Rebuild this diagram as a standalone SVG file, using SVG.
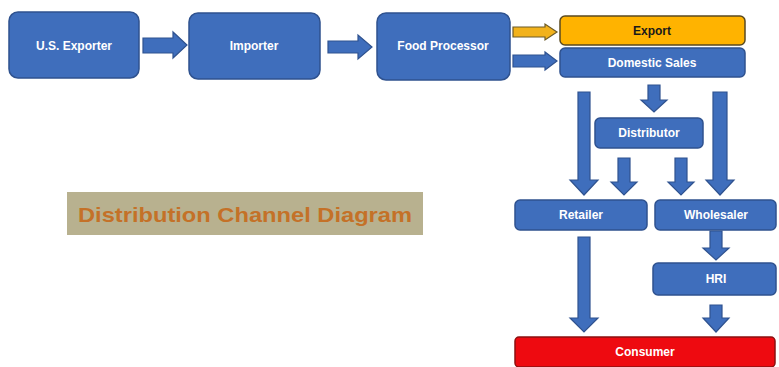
<svg xmlns="http://www.w3.org/2000/svg" width="779" height="367" viewBox="0 0 779 367">
<style>
.box{fill:#3F6EBC;stroke:#2F528F;stroke-width:1.5}
.lbl{font-family:"Liberation Sans",Arial,sans-serif;font-weight:bold;font-size:12px;fill:#FFFFFF;text-anchor:middle;dominant-baseline:central}
.arr{fill:#3F6EBC;stroke:#2F528F;stroke-width:1.2}
.arrO{fill:#F2B21C;stroke:#6B5A28;stroke-width:1.2}
</style>
<rect width="779" height="367" fill="#FFFFFF"/>
<g id="connectors">
<polygon class="arr" points="143,38 173,38 173,32 187,45 173,58 173,53 143,53"/>
<polygon class="arr" points="328,41 358,41 358,35 372,47 358,59 358,53 328,53"/>
<polygon class="arrO" points="513,27 545,27 545,24 557,32 545,40 545,37 513,37"/>
<polygon class="arr" points="513,55 545,55 545,52 557,61 545,70 545,67 513,67"/>
<polygon class="arr" points="578,92 590,92 590,180 598,180 584,195 570,180 578,180"/>
<polygon class="arr" points="713,92 727,92 727,180 734,180 720,195 706,180 713,180"/>
<polygon class="arr" points="648,85 660,85 660,100 667,100 654,112 641,100 648,100"/>
<polygon class="arr" points="618,158 630,158 630,182 637,182 624,195 611,182 618,182"/>
<polygon class="arr" points="675,158 687,158 687,182 694,182 681,195 668,182 675,182"/>
<polygon class="arr" points="578,237 590,237 590,318 598,318 584,332 570,318 578,318"/>
<polygon class="arr" points="710,231 722,231 722,248 729,248 716,260 703,248 710,248"/>
<polygon class="arr" points="710,305 722,305 722,318 729,318 716,332 703,318 710,318"/>
</g>
<g id="us-exporter">
<rect class="box" x="9" y="12" width="130" height="66" rx="9"/>
<text class="lbl" x="74" y="46">U.S. Exporter</text>
</g>
<g id="importer">
<rect class="box" x="189" y="13" width="131" height="66" rx="9"/>
<text class="lbl" x="254" y="46">Importer</text>
</g>
<g id="food-processor">
<rect class="box" x="377" y="13" width="133" height="67" rx="9"/>
<text class="lbl" x="443" y="46">Food Processor</text>
</g>
<g id="export">
<rect x="560" y="16" width="185" height="29" rx="5" fill="#FFB300" stroke="#5A4A20" stroke-width="1.5"/>
<text class="lbl" x="652" y="31" style="fill:#1A1A1A">Export</text>
</g>
<g id="domestic-sales">
<rect class="box" x="560" y="48" width="185" height="29" rx="5"/>
<text class="lbl" x="652" y="63">Domestic Sales</text>
</g>
<g id="distributor">
<rect class="box" x="595" y="118" width="108" height="30" rx="5"/>
<text class="lbl" x="649" y="133">Distributor</text>
</g>
<g id="retailer">
<rect class="box" x="515" y="200" width="132" height="30" rx="5"/>
<text class="lbl" x="581" y="215">Retailer</text>
</g>
<g id="wholesaler">
<rect class="box" x="655" y="200" width="121" height="30" rx="5"/>
<text class="lbl" x="716" y="215">Wholesaler</text>
</g>
<g id="hri">
<rect class="box" x="653" y="263" width="123" height="32" rx="5"/>
<text class="lbl" x="716" y="279">HRI</text>
</g>
<g id="consumer">
<rect x="515" y="337" width="260" height="30" rx="4" fill="#EE0A10" stroke="#8C1010" stroke-width="1.5"/>
<text class="lbl" x="645" y="352">Consumer</text>
</g>
<g id="title">
<rect x="67" y="192" width="356" height="43" fill="#B8B18F"/>
<text x="245" y="214" font-family="'Liberation Sans',Arial,sans-serif" font-weight="bold" font-size="21" fill="#C47128" text-anchor="middle" dominant-baseline="central" textLength="334" lengthAdjust="spacingAndGlyphs">Distribution Channel Diagram</text>
</g>
</svg>
